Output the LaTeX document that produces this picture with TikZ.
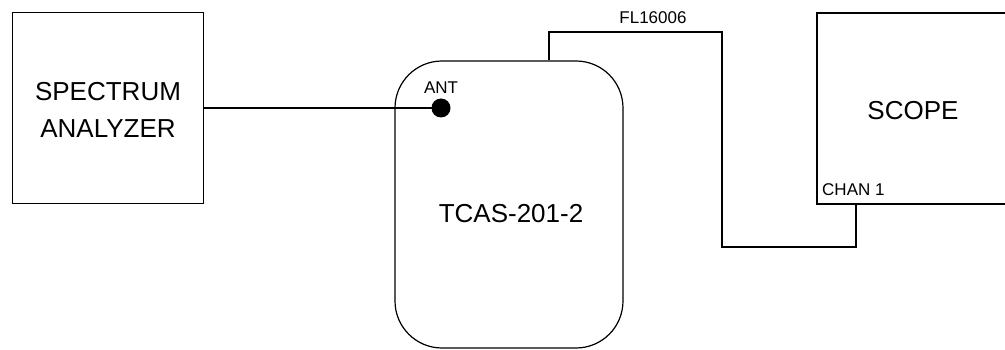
\documentclass[tikz,border=0pt]{standalone}
\usepackage{fontspec}
\setmainfont{Liberation Sans}
\begin{document}
\begin{tikzpicture}[x=1pt,y=-1pt,
  box/.style={draw=black,line width=1.2pt,inner sep=0pt},
  bigtext/.style={font=\fontsize{26}{30}\selectfont,inner sep=0pt},
  smalltext/.style={font=\fontsize{17}{20}\selectfont,inner sep=0pt},
  wire/.style={draw=black,line width=1.2pt}]
\useasboundingbox (0,0) rectangle (1005,350);
\clip (0,0) rectangle (1005,350);
% boxes
\node[box,minimum width=191pt,minimum height=191pt] (sa) at (108,108) {};
\node[box,rounded corners=47pt,minimum width=228pt,minimum height=287pt] (tcas) at (509,204.5) {};
\node[box,minimum width=220pt,minimum height=191pt] (scope) at (927,108.5) {};
% texts
\node[bigtext] (sat1) at (108,92) {SPECTRUM};
\node[bigtext] (sat2) at (108,129) {ANALYZER};
\node[bigtext] (tcast) at (511,214) {TCAS-201-2};
\node[bigtext] (scopet) at (913,110.5) {SCOPE};
\node[smalltext] (antt) at (441,88) {ANT};
\node[smalltext,anchor=west] (chan) at (822,190) {CHAN 1};
\node[smalltext] (fl) at (653,17.5) {FL16006};
% antenna dot
\node[circle,fill=black,inner sep=0pt,minimum size=19pt] (ant) at (441,108) {};
% connectors
\draw[wire] (sa.east) -- (ant.center);
\coordinate (c1) at (549,32);
\coordinate (c2) at (722,32);
\coordinate (c3) at (722,247);
\coordinate (c4) at (856,247);
\draw[wire] (c1 |- tcas.north) -- (c1) -- (c2) -- (c3) -- (c4) -- (c4 |- scope.south);
\end{tikzpicture}
\end{document}
